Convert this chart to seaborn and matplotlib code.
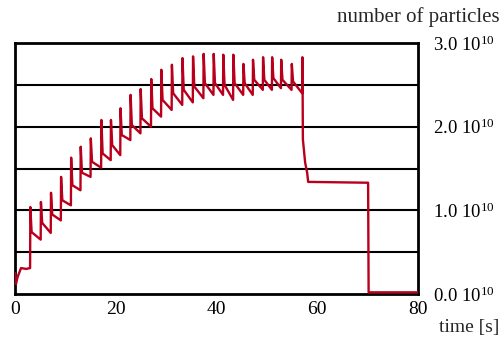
import matplotlib
matplotlib.use('Agg')
import matplotlib.pyplot as plt
import pandas as pd
import seaborn as sns

# particle counts in units of 1e10, time in seconds
start_t = [0.0, 0.2, 0.5, 1.2, 2.2]
start_n = [0.25, 0.12, 0.20, 0.31, 0.30]

spike_t = [3.0, 5.1, 7.1, 9.1, 11.1, 13.0, 15.0, 17.1, 19.0, 20.9, 22.9, 24.9, 27.0, 29.0,
           31.1, 33.2, 35.3, 37.4, 39.4, 41.3, 43.3, 45.3, 47.2, 49.2, 51.0, 52.8, 54.9, 57.0]
trough_n = [0.31, 0.65, 0.73, 0.88, 1.06, 1.24, 1.40, 1.51, 1.60, 1.66, 1.84, 1.92, 2.00, 2.12,
            2.20, 2.26, 2.29, 2.34, 2.38, 2.38, 2.32, 2.38, 2.38, 2.44, 2.44, 2.46, 2.44, 2.40]
peak_n = [1.04, 1.10, 1.21, 1.40, 1.63, 1.76, 1.86, 2.08, 2.08, 2.22, 2.38, 2.45, 2.57, 2.68,
          2.74, 2.82, 2.84, 2.87, 2.87, 2.86, 2.86, 2.75, 2.80, 2.83, 2.83, 2.80, 2.75, 2.83]
post_n = [0.74, 0.85, 0.95, 1.12, 1.30, 1.45, 1.58, 1.68, 1.78, 1.90, 2.02, 2.10, 2.22, 2.32,
          2.40, 2.44, 2.48, 2.52, 2.52, 2.50, 2.52, 2.52, 2.56, 2.56, 2.58, 2.56, 2.54]

tail_t = [57.1, 57.15, 57.6, 58.0, 58.2, 70.1, 70.2, 80.0]
tail_n = [2.45, 1.85, 1.57, 1.45, 1.34, 1.33, 0.02, 0.02]

x_ticks = [0, 20, 40, 60, 80]
y_ticks = [0.0, 1.0, 2.0, 3.0]
y_labels = [r'0.0 $\mathregular{10^{10}}$', r'1.0 $\mathregular{10^{10}}$',
            r'2.0 $\mathregular{10^{10}}$', r'3.0 $\mathregular{10^{10}}$']
grid_levels = [0.5, 1.0, 1.5, 2.0, 2.5]

t_vals = list(start_t)
n_vals = list(start_n)
for i, t in enumerate(spike_t):
    t_vals += [t, t + 0.05]
    n_vals += [trough_n[i], peak_n[i]]
    if i < len(post_n):
        t_vals.append(t + 0.3)
        n_vals.append(post_n[i])
t_vals += tail_t
n_vals += tail_n

df = pd.DataFrame({'time': t_vals, 'particles': n_vals})

sns.set_style('white')
plt.rcParams['font.family'] = ['Liberation Serif', 'DejaVu Serif']

fig = plt.figure(figsize=(5.01, 3.41), dpi=100)
ax = fig.add_axes([0.0299, 0.1378, 0.8044, 0.7361])

for y in grid_levels:
    ax.axhline(y, color='black', linewidth=1.5, zorder=1)

sns.lineplot(data=df, x='time', y='particles', sort=False, estimator=None,
             color='#b8001c', linewidth=1.7, ax=ax, zorder=3)

ax.set_xlim(0, 80)
ax.set_ylim(0, 3.0)
ax.set_xticks(x_ticks)
ax.set_xticklabels([str(x) for x in x_ticks])
ax.yaxis.tick_right()
ax.set_yticks(y_ticks)
ax.set_yticklabels(y_labels)
ax.set_xlabel('')
ax.set_ylabel('')

for side in ['left', 'right', 'top', 'bottom']:
    ax.spines[side].set_visible(True)
    ax.spines[side].set_color('black')
    ax.spines[side].set_linewidth(2)

ax.tick_params(axis='x', direction='out', length=3, width=2, pad=2, labelsize=14, colors='black')
ax.tick_params(axis='y', length=0, pad=11, labelsize=13.5, colors='black')

fig.text(0.998, 0.95, 'number of particles', ha='right', va='center', fontsize=15)
fig.text(0.996, 0.04, 'time [s]', ha='right', va='center', fontsize=14)

fig.savefig('out.png', dpi=100)
